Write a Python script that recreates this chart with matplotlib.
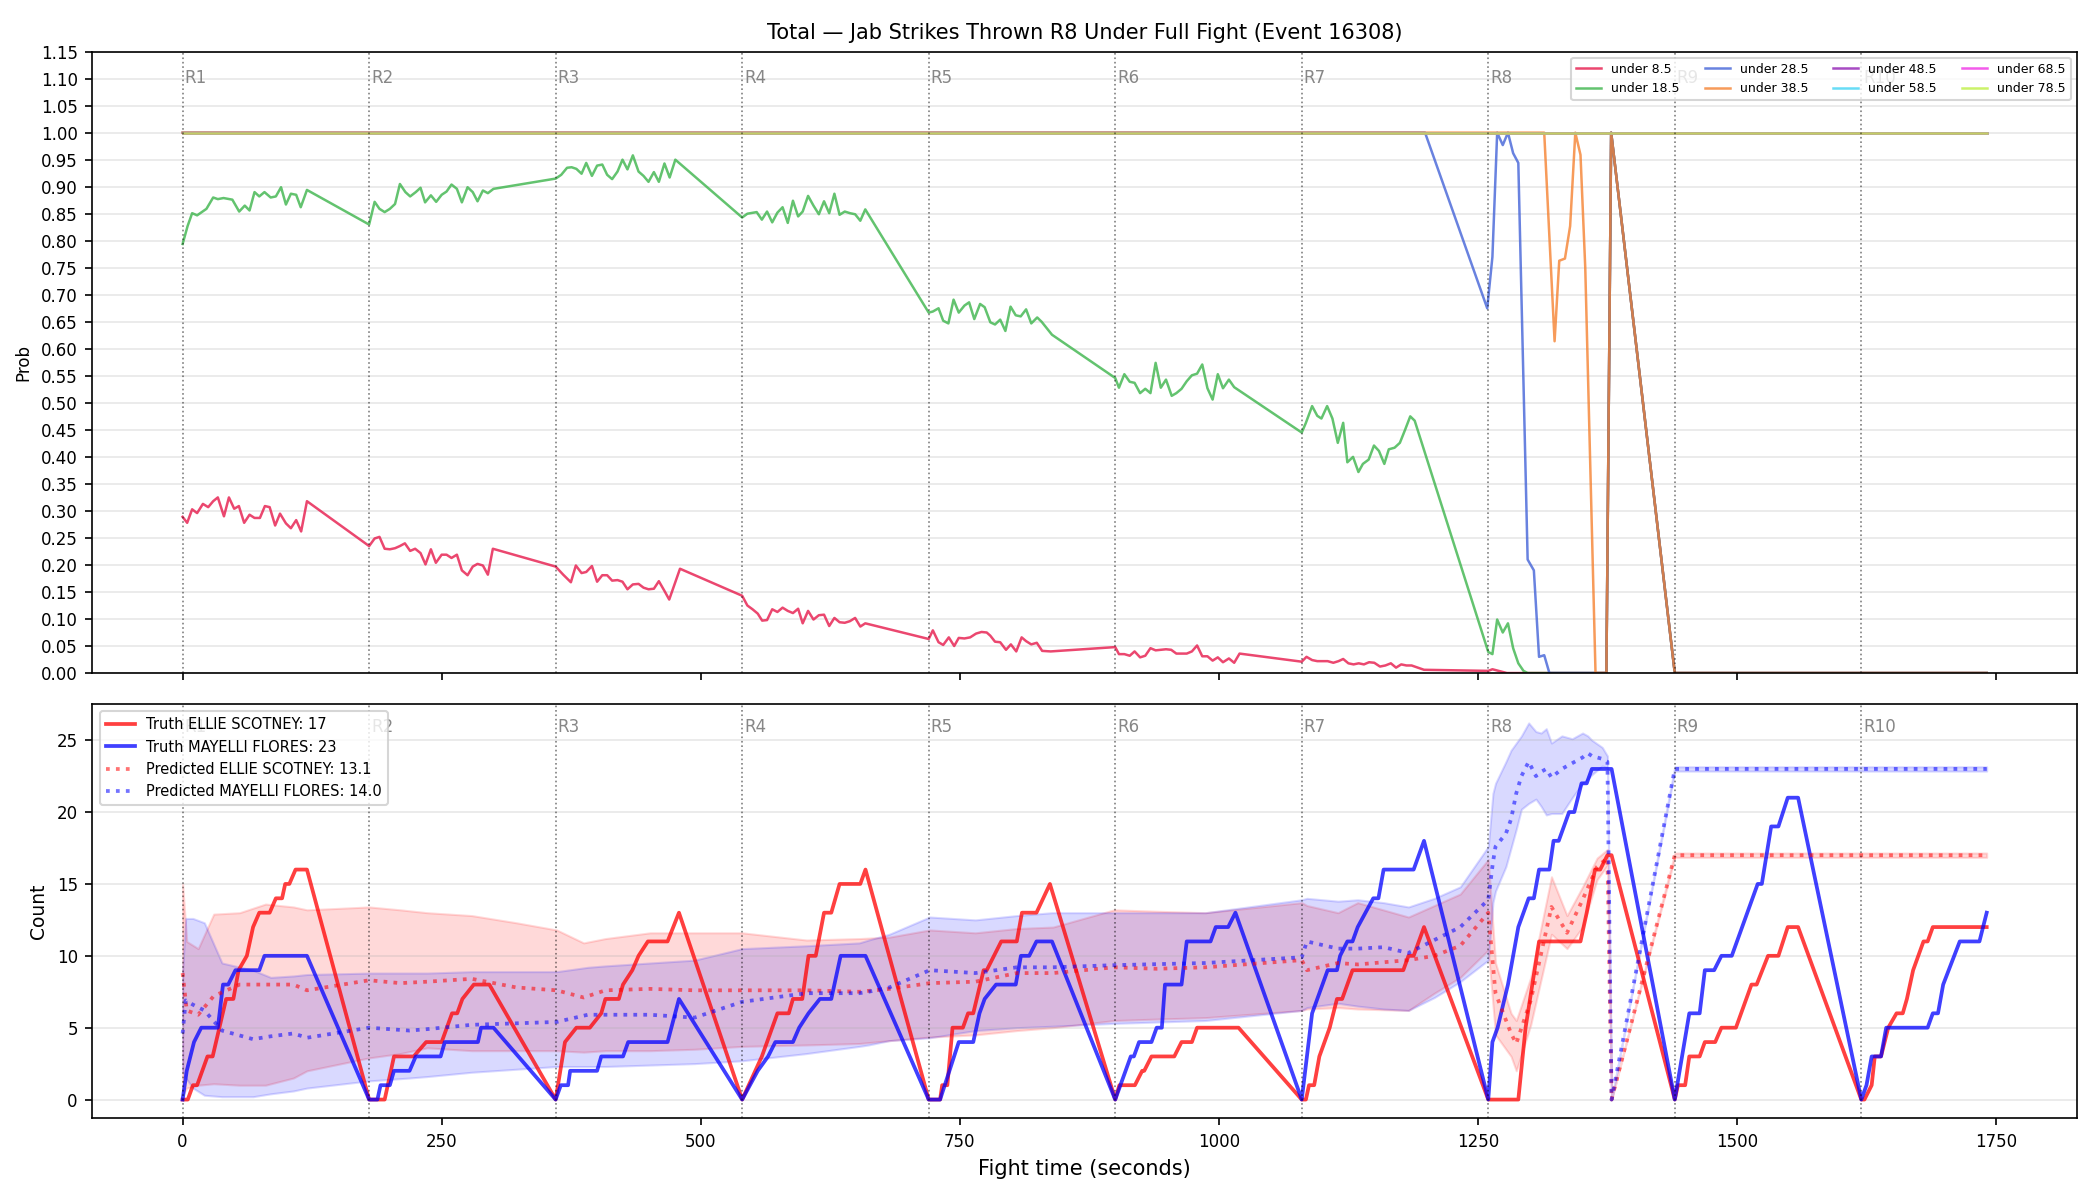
import numpy as np
import matplotlib
matplotlib.use('Agg')
import matplotlib.pyplot as plt
from matplotlib.ticker import FormatStrFormatter

# ---- round starts ----
round_starts = [0, 180, 360, 540, 720, 900, 1080, 1260, 1440, 1620]
round_labels = ['R1', 'R2', 'R3', 'R4', 'R5', 'R6', 'R7', 'R8', 'R9', 'R10']

# ---- top panel: P(total under line) ----
t_u85 = [0, 4.4, 9.2, 14, 19.6, 24.7, 29.5, 34, 39.9, 44.7, 49.8, 54.3, 59.4, 64.6, 69.4, 74.6, 79.4, 84, 89.3, 94, 99.7, 104.5, 109.6, 114.4, 120,
         180, 185.3, 190, 195, 200, 205, 209.7, 214.5, 219.6, 224.4, 229.6, 234.4, 239.6, 244.4, 250, 254.7, 259.5, 264.7, 269.5, 275, 280, 284.6, 289.8, 294.6, 299.4,
         360, 367.3, 374.7, 379.5, 385, 389.5, 395, 400, 405, 409.7, 414.5, 419.7, 424.5, 429.3, 434.5, 440, 444.8, 449.6, 454.8, 459.6, 465, 469.6, 480,
         540, 545, 550, 555, 559.3, 564, 569, 574, 579, 584, 589, 594, 598.4, 603.6, 608.8, 614, 619, 624, 629, 634, 639, 644, 649, 654, 658.8,
         720, 724, 729.5, 734, 739.4, 744.6, 749, 754.5, 760, 765.7, 771, 776, 779.5, 784, 789, 794.6, 799.3, 804.5, 809.7, 814, 819, 824.3, 829.5, 837.7,
         900, 903.6, 908.8, 914, 918.7, 924, 929, 934, 939, 944, 949, 954, 959, 964, 969, 974, 979, 984, 989, 994, 999, 1004, 1009.7, 1014.8, 1020,
         1080, 1084.6, 1090, 1095, 1100, 1105, 1110.5, 1115.5, 1120, 1125, 1130, 1135, 1140, 1145, 1150, 1155.5, 1160.7, 1166, 1171, 1176, 1181, 1186, 1192, 1198,
         1260, 1264, 1268, 1278, 1374, 1378.6, 1440, 1741]
p_u85 = [0.289, 0.278, 0.303, 0.296, 0.313, 0.307, 0.318, 0.325, 0.290, 0.325, 0.304, 0.309, 0.278, 0.293, 0.287, 0.287, 0.309, 0.307, 0.273, 0.295, 0.277, 0.268, 0.283, 0.262, 0.318,
         0.235, 0.249, 0.252, 0.230, 0.229, 0.231, 0.235, 0.240, 0.226, 0.230, 0.222, 0.201, 0.229, 0.204, 0.219, 0.219, 0.213, 0.219, 0.190, 0.181, 0.197, 0.202, 0.199, 0.182, 0.230,
         0.197, 0.182, 0.168, 0.199, 0.185, 0.187, 0.198, 0.169, 0.181, 0.181, 0.171, 0.172, 0.169, 0.155, 0.164, 0.165, 0.158, 0.155, 0.156, 0.170, 0.152, 0.136, 0.193,
         0.143, 0.125, 0.118, 0.110, 0.097, 0.098, 0.118, 0.113, 0.121, 0.115, 0.111, 0.119, 0.092, 0.115, 0.099, 0.107, 0.108, 0.087, 0.102, 0.094, 0.093, 0.096, 0.102, 0.086, 0.092,
         0.063, 0.079, 0.057, 0.052, 0.066, 0.050, 0.065, 0.064, 0.066, 0.073, 0.076, 0.075, 0.069, 0.058, 0.057, 0.043, 0.053, 0.040, 0.066, 0.059, 0.053, 0.056, 0.041, 0.040,
         0.048, 0.035, 0.035, 0.032, 0.040, 0.029, 0.032, 0.046, 0.042, 0.043, 0.044, 0.043, 0.036, 0.036, 0.036, 0.040, 0.051, 0.031, 0.031, 0.023, 0.029, 0.020, 0.027, 0.019, 0.036,
         0.021, 0.030, 0.024, 0.022, 0.022, 0.022, 0.019, 0.022, 0.026, 0.018, 0.016, 0.018, 0.016, 0.020, 0.019, 0.012, 0.014, 0.018, 0.010, 0.016, 0.014, 0.014, 0.010, 0.006,
         0.004, 0.007, 0.005, 0.0, 0.0, 1.0, 0.0, 0.0]

t_u185 = [0, 4.8, 9.2, 14, 23, 29.5, 34, 39.5, 48, 54.6, 60, 64.6, 69.4, 74, 79, 85, 90, 95, 99.7, 104.5, 109.6, 114, 120,
          180, 185.3, 190, 195, 200, 205, 209.7, 215, 219.6, 225, 229.6, 234, 239.6, 244.7, 250, 254.7, 259.5, 264.7, 269.5, 275, 280, 284.6, 289.8, 294.6, 300,
          360, 365.4, 371, 375.4, 380, 385, 389.5, 395, 400, 405, 409.7, 414.5, 419.7, 424.5, 429.3, 434.5, 440, 444.8, 449.6, 454.8, 459.6, 465, 470, 475.5,
          540, 545, 554, 559, 564, 569, 574, 579, 584, 589, 594, 598.4, 603.6, 608.8, 614, 619, 624, 629, 634, 639, 644, 649, 654, 658.8,
          720, 724, 729.5, 734, 739, 744, 749, 754.5, 759, 764, 769.6, 774, 779.5, 784, 789, 794, 799, 804, 808.8, 814, 819, 824.7, 829, 839,
          900, 903.6, 908.8, 914, 918.7, 924, 929, 934, 939, 944, 949, 954.5, 959, 964, 969, 974, 979, 984, 989, 994, 999, 1004, 1009.7, 1014.8,
          1080, 1084, 1090, 1095, 1099, 1104.5, 1109.6, 1114.8, 1120, 1124, 1129.5, 1134.7, 1139, 1144.6, 1149.7, 1154.5, 1159.7, 1164, 1169.6, 1174.7, 1179.5, 1184.7, 1189,
          1260, 1264, 1268.6, 1274, 1279, 1284, 1289, 1294, 1298, 1374, 1378.6, 1440, 1741]
p_u185 = [0.794, 0.827, 0.851, 0.847, 0.859, 0.880, 0.877, 0.879, 0.876, 0.854, 0.865, 0.856, 0.890, 0.882, 0.890, 0.880, 0.882, 0.899, 0.867, 0.887, 0.885, 0.862, 0.894,
          0.830, 0.872, 0.859, 0.853, 0.859, 0.868, 0.905, 0.890, 0.882, 0.890, 0.898, 0.871, 0.884, 0.872, 0.885, 0.891, 0.904, 0.896, 0.871, 0.899, 0.890, 0.873, 0.893, 0.888, 0.896,
          0.915, 0.922, 0.935, 0.936, 0.933, 0.924, 0.944, 0.920, 0.939, 0.941, 0.922, 0.914, 0.928, 0.950, 0.932, 0.958, 0.928, 0.920, 0.909, 0.927, 0.909, 0.943, 0.917, 0.950,
          0.843, 0.850, 0.853, 0.839, 0.854, 0.834, 0.852, 0.862, 0.833, 0.874, 0.845, 0.854, 0.883, 0.865, 0.849, 0.873, 0.851, 0.887, 0.848, 0.854, 0.851, 0.849, 0.837, 0.858,
          0.667, 0.669, 0.675, 0.652, 0.647, 0.691, 0.667, 0.680, 0.686, 0.655, 0.683, 0.677, 0.649, 0.645, 0.654, 0.633, 0.678, 0.662, 0.660, 0.673, 0.647, 0.658, 0.650, 0.626,
          0.546, 0.528, 0.553, 0.539, 0.537, 0.518, 0.526, 0.518, 0.574, 0.528, 0.543, 0.513, 0.518, 0.526, 0.540, 0.551, 0.554, 0.571, 0.527, 0.506, 0.553, 0.527, 0.543, 0.529,
          0.445, 0.463, 0.494, 0.476, 0.471, 0.494, 0.471, 0.426, 0.463, 0.390, 0.400, 0.372, 0.387, 0.395, 0.421, 0.411, 0.387, 0.414, 0.417, 0.426, 0.449, 0.475, 0.467,
          0.039, 0.035, 0.099, 0.075, 0.092, 0.046, 0.018, 0.004, 0.0, 0.0, 1.0, 0.0, 0.0]

t_u285 = [0, 1199, 1259, 1264, 1268.6, 1274, 1279, 1284, 1289, 1298, 1304, 1309, 1314, 1319, 1374, 1378.6, 1440, 1741]
p_u285 = [1.0, 1.0, 0.675, 0.77, 1.0, 0.977, 1.0, 0.962, 0.944, 0.21, 0.19, 0.03, 0.033, 0.0, 0.0, 1.0, 0.0, 0.0]

t_u385 = [0, 1314, 1324, 1328.5, 1334, 1339, 1344, 1349, 1353.6, 1363.5, 1374, 1378.6, 1440, 1741]
p_u385 = [1.0, 1.0, 0.614, 0.763, 0.767, 0.827, 1.0, 0.959, 0.75, 0.0, 0.0, 1.0, 0.0, 0.0]

t_high = [0, 1741]
p_u485 = [1.0, 1.0]
p_u585 = [1.0, 1.0]
p_u685 = [1.0, 1.0]
p_u785 = [1.0, 1.0]

# ---- bottom panel: truth counts ----
t_truth_e = [0, 5, 10, 14, 24, 29, 42, 49, 54, 62, 68, 74, 84, 90, 96, 99, 103, 109, 120,
             180, 195, 204, 223, 235, 250, 260, 265, 270, 281, 296,
             360, 369, 380, 393, 404, 408, 421, 425, 434, 440, 449, 468, 479,
             540, 559, 574, 585, 589, 598, 604, 611, 619, 626, 634, 654, 659,
             720, 731, 733, 738, 743, 753, 758, 763, 773, 776, 790, 805, 810, 824, 837,
             900, 904, 919, 926, 928, 935, 957, 964, 974, 979, 1019,
             1080, 1084, 1087, 1092, 1097, 1107, 1114, 1119, 1129, 1178, 1183, 1188, 1198,
             1260, 1289, 1296, 1309, 1349, 1355, 1363, 1368, 1375, 1379,
             1440, 1443, 1450, 1454, 1464, 1469, 1479, 1485, 1499, 1514, 1519, 1530, 1540, 1549, 1559,
             1620, 1623, 1630, 1633, 1639, 1646, 1654, 1660, 1664, 1670, 1680, 1684, 1689, 1741]
truth_e = [0, 0, 1, 1, 3, 3, 7, 7, 9, 10, 12, 13, 13, 14, 14, 15, 15, 16, 16,
           0, 0, 3, 3, 4, 4, 6, 6, 7, 8, 8,
           0, 4, 5, 5, 6, 7, 7, 8, 9, 10, 11, 11, 13,
           0, 3, 6, 6, 7, 7, 10, 10, 13, 13, 15, 15, 16,
           0, 0, 1, 1, 5, 5, 6, 6, 9, 9, 11, 11, 13, 13, 15,
           0, 1, 1, 2, 2, 3, 3, 4, 4, 5, 5,
           0, 0, 1, 1, 3, 5, 7, 7, 9, 9, 10, 10, 12,
           0, 0, 5, 11, 11, 13, 16, 16, 17, 17,
           0, 1, 1, 3, 3, 4, 4, 5, 5, 8, 8, 10, 10, 12, 12,
           0, 0, 1, 3, 3, 5, 6, 6, 7, 9, 11, 11, 12, 12]

t_truth_m = [0, 4, 11, 18, 34, 39, 44, 51, 74, 79, 120,
             180, 188, 191, 200, 204, 219, 225, 249, 253, 285, 288, 300,
             360, 365, 372, 374, 400, 404, 425, 430, 468, 479,
             540, 555, 565, 572, 589, 595, 604, 615, 626, 635, 659,
             720, 731, 749, 763, 769, 774, 785, 804, 809, 817, 824, 839,
             900, 915, 918, 923, 935, 940, 945, 948, 964, 969, 992, 997, 1009, 1016,
             1080, 1090, 1100, 1105, 1114, 1117, 1124, 1129, 1134, 1149, 1154, 1159, 1188, 1198,
             1260, 1264, 1269, 1279, 1289, 1299, 1304, 1309, 1319, 1323, 1328, 1338, 1343, 1350, 1355, 1360, 1379,
             1440, 1454, 1464, 1469, 1478, 1485, 1495, 1520, 1524, 1533, 1540, 1549, 1559,
             1620, 1625, 1630, 1639, 1644, 1684, 1689, 1694, 1699, 1715, 1734, 1741]
truth_m = [0, 2, 4, 5, 5, 8, 8, 9, 9, 10, 10,
           0, 0, 1, 1, 2, 2, 3, 3, 4, 4, 5, 5,
           0, 1, 1, 2, 2, 3, 3, 4, 4, 7,
           0, 2, 3, 4, 4, 5, 6, 7, 7, 10, 10,
           0, 0, 4, 4, 6, 7, 8, 8, 10, 10, 11, 11,
           0, 3, 3, 4, 4, 5, 5, 8, 8, 11, 11, 12, 12, 13,
           0, 6, 8, 9, 9, 10, 11, 11, 12, 14, 14, 16, 16, 18,
           0, 4, 5, 8, 12, 14, 14, 16, 16, 18, 18, 20, 20, 22, 22, 23, 23,
           0, 6, 6, 9, 9, 10, 10, 15, 15, 19, 19, 21, 21,
           0, 1, 3, 3, 5, 5, 6, 6, 8, 11, 11, 13]

# ---- bottom panel: predicted counts with bands ----
t_pred_e = [0, 4, 15, 30, 55, 80, 107, 120, 180, 210, 236, 279, 322, 361, 387, 408, 451, 494,
            540, 602, 653, 682, 721, 765, 805, 840, 899, 940, 987, 1080, 1085, 1115, 1134,
            1183, 1208, 1233, 1260, 1267, 1282, 1287, 1301, 1321, 1336, 1351, 1365, 1375, 1379, 1440, 1741]
pred_e = [8.8, 6.2, 5.9, 7.2, 8.0, 8.0, 8.0, 7.6, 8.3, 8.1, 8.2, 8.4, 7.8, 7.6, 7.1, 7.6, 7.7, 7.6,
          7.6, 7.6, 7.5, 7.7, 8.1, 8.2, 8.8, 8.8, 9.2, 9.1, 9.2, 9.7, 9.0, 9.5, 9.4,
          9.7, 10.0, 10.7, 13.0, 7.4, 4.6, 3.9, 6.9, 13.4, 11.6, 13.9, 16.2, 16.8, 0, 17, 17]
lo_e = [0.3, 0.8, 1.0, 1.1, 1.0, 1.0, 1.5, 2.0, 2.9, 3.2, 3.6, 3.4, 3.4, 3.4, 3.3, 3.4, 3.4, 3.5,
        3.7, 3.8, 3.9, 4.1, 4.35, 4.5, 4.8, 5.0, 5.5, 5.6, 5.7, 6.2, 6.3, 6.4, 6.3,
        6.2, 7.4, 8.5, 10.4, 4.5, 3.0, 2.0, 5.2, 11.5, 10.5, 12.0, 15.3, 16.3, 0, 16.85, 16.85]
hi_e = [15.0, 11.0, 10.5, 12.9, 13.0, 13.6, 13.4, 13.2, 13.4, 13.2, 13.0, 12.8, 12.3, 11.8, 10.9, 11.2, 11.6, 11.6,
        11.6, 11.1, 11.2, 11.3, 11.8, 11.6, 11.9, 12.0, 13.2, 13.1, 13.0, 13.7, 13.5, 13.0, 13.7,
        12.7, 13.5, 14.3, 16.7, 9.5, 6.0, 5.5, 8.5, 15.5, 12.8, 14.8, 16.8, 17.4, 0, 17.15, 17.15]

t_pred_m = [0, 3, 10, 21, 38, 68, 85, 107, 120, 180, 219, 236, 279, 361, 391, 408, 451, 494,
            540, 602, 653, 662, 682, 721, 765, 805, 839, 899, 987, 1080, 1085, 1115, 1134,
            1159, 1183, 1208, 1233, 1260, 1264.5, 1267, 1277, 1282, 1287, 1292, 1299, 1306, 1311, 1316,
            1321, 1331, 1341, 1351, 1356, 1360, 1370, 1375, 1379, 1440, 1741]
pred_m = [4.6, 6.9, 6.6, 6.2, 4.8, 4.2, 4.4, 4.6, 4.3, 5.0, 4.8, 4.9, 5.2, 5.4, 5.9, 5.9, 5.9, 5.7,
          6.8, 7.4, 7.4, 7.5, 7.8, 9.0, 8.8, 9.2, 9.2, 9.35, 9.5, 9.9, 11.0, 10.5, 10.5,
          10.6, 10.2, 11.1, 12.0, 13.9, 16.5, 17.6, 18.5, 19.5, 21.3, 22.5, 23.5, 22.5, 22.8, 23.0,
          22.4, 23.0, 23.4, 23.8, 24.1, 23.9, 23.7, 23.5, 0, 23, 23]
lo_m = [2.0, 1.5, 0.8, 0.3, 0.2, 0.2, 0.4, 0.6, 0.8, 1.3, 1.5, 1.6, 1.9, 2.3, 2.3, 2.3, 2.4, 2.5,
        2.7, 3.2, 3.7, 3.8, 4.1, 4.3, 4.8, 5.0, 5.1, 5.3, 5.5, 6.2, 6.4, 6.7, 6.5,
        6.3, 6.2, 7.1, 8.2, 9.7, 13.7, 14.5, 16.2, 17.5, 18.8, 20.2, 20.6, 20.9, 20.4, 19.8,
        19.9, 19.9, 21.0, 22.0, 22.3, 22.6, 23.2, 23.1, 0, 22.85, 22.85]
hi_m = [9.0, 12.6, 12.6, 12.3, 9.5, 9.0, 8.5, 8.6, 8.7, 8.8, 8.8, 8.8, 8.9, 8.9, 9.2, 9.3, 9.5, 9.7,
        10.5, 10.7, 10.9, 11.1, 11.5, 12.7, 12.5, 12.8, 13.0, 13.0, 13.0, 13.9, 14.0, 13.8, 13.9,
        13.7, 13.4, 14.0, 14.8, 17.6, 21.3, 22.0, 23.5, 24.3, 24.8, 25.3, 26.2, 25.6, 25.5, 25.8,
        24.8, 25.3, 25.1, 25.5, 25.3, 25.0, 24.5, 23.9, 0, 23.15, 23.15]

# ---- figure ----
fig, (ax1, ax2) = plt.subplots(2, 1, figsize=(14, 8), dpi=150, sharex=True,
                               gridspec_kw={'height_ratios': [3, 2]})
fig.subplots_adjust(left=0.044, right=0.989, top=0.957, bottom=0.068, hspace=0.06)

line_colors = ['#e6194b', '#3cb44b', '#4363d8', '#f58231', '#911eb4', '#42d4f4', '#f032e6', '#bfef45']
top_series = [
    ('under 8.5', t_u85, p_u85),
    ('under 18.5', t_u185, p_u185),
    ('under 28.5', t_u285, p_u285),
    ('under 38.5', t_u385, p_u385),
    ('under 48.5', t_high, p_u485),
    ('under 58.5', t_high, p_u585),
    ('under 68.5', t_high, p_u685),
    ('under 78.5', t_high, p_u785),
]
for (label, tt, pp), col in zip(top_series, line_colors):
    ax1.plot(tt, pp, color=col, lw=1.2, alpha=0.8, label=label)

ax1.set_ylim(0, 1.15)
ax1.set_yticks(np.round(np.arange(0, 1.151, 0.05), 2))
ax1.yaxis.set_major_formatter(FormatStrFormatter('%.2f'))
ax1.set_ylabel('Prob', fontsize=8)
ax1.set_title('Total \u2014 Jab Strikes Thrown R8 Under Full Fight (Event 16308)', fontsize=10)
ax1.grid(axis='y', alpha=0.3)
ax1.legend(loc='upper right', ncol=4, fontsize=6)

# bottom panel
ax2.plot(t_truth_e, truth_e, color='red', lw=1.8, alpha=0.75, label='Truth ELLIE SCOTNEY: 17')
ax2.plot(t_truth_m, truth_m, color='blue', lw=1.8, alpha=0.75, label='Truth MAYELLI FLORES: 23')
ax2.plot(t_pred_e, pred_e, color='red', lw=1.8, alpha=0.55, linestyle=':', label='Predicted ELLIE SCOTNEY: 13.1')
ax2.fill_between(t_pred_e, lo_e, hi_e, color='red', alpha=0.15)
ax2.plot(t_pred_m, pred_m, color='blue', lw=1.8, alpha=0.55, linestyle=':', label='Predicted MAYELLI FLORES: 14.0')
ax2.fill_between(t_pred_m, lo_m, hi_m, color='blue', alpha=0.15)
ax2.set_ylabel('Count', fontsize=9)
ax2.set_xlabel('Fight time (seconds)', fontsize=10)
ax2.grid(axis='y', alpha=0.3)
ax2.legend(loc='upper left', fontsize=7)

for ax, frac in ((ax1, 0.95), (ax2, 0.93)):
    ax.tick_params(labelsize=8)
    ymax = ax.get_ylim()[1]
    for rs, rl in zip(round_starts, round_labels):
        ax.axvline(rs, color='black', linestyle=':', lw=0.8, alpha=0.5)
        ax.text(rs + 2, ymax * frac, rl, fontsize=8, color='dimgray', alpha=0.8)

fig.savefig('out.png', dpi=150)
